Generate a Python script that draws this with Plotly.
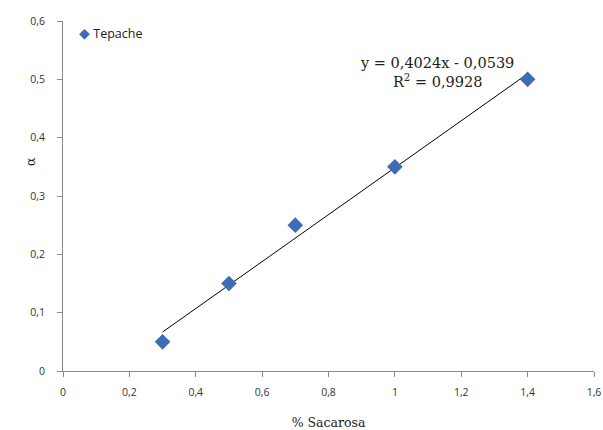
import plotly.graph_objects as go
import numpy as np

sacarosa = [0.3, 0.5, 0.7, 1.0, 1.4]
alpha = [0.05, 0.15, 0.25, 0.35, 0.50]
slope = 0.4024
intercept = -0.0539
eq_text = "y = 0,4024x - 0,0539<br>R<sup>2</sup> = 0,9928"
series_name = "Tepache"
marker_color = "#3D6DB5"
y_title = "α"

xt = np.array([min(sacarosa), max(sacarosa)])
yt = slope * xt + intercept

fig = go.Figure()
fig.add_trace(go.Scatter(x=list(xt), y=list(yt), mode="lines",
                         line=dict(color="black", width=1), showlegend=False,
                         hoverinfo="skip"))
fig.add_trace(go.Scatter(x=sacarosa, y=alpha, mode="markers", name=series_name,
                         showlegend=False,
                         marker=dict(symbol="diamond", size=12, color=marker_color)))

# legend drawn as a paper-anchored label
fig.add_annotation(x=0.027, y=0.966, xref="paper", yref="paper",
                   text=f"<span style='color:{marker_color};font-size:14px'>◆</span> {series_name}",
                   showarrow=False, xanchor="left", yanchor="middle",
                   font=dict(family="Open Sans, Liberation Sans, sans-serif", size=12.5, color="#222"))

# y axis title placed close to the tick labels
fig.add_annotation(x=-0.062, y=0.597, xref="paper", yref="paper", text=y_title,
                   showarrow=False, textangle=-90, xanchor="center", yanchor="middle",
                   font=dict(family="DejaVu Serif, Liberation Serif, serif", size=13, color="#222"))

fig.add_annotation(x=1.127, y=0.511, xref="x", yref="y", text=eq_text, showarrow=False,
                   font=dict(family="DejaVu Serif, Liberation Serif, serif", size=14.5, color="#222"),
                   align="center", xanchor="center", yanchor="middle")

tickfont = dict(family="Open Sans, Liberation Sans, sans-serif", size=10.5, color="#333")
fig.update_layout(
    width=603, height=430,
    margin=dict(l=63, r=9, t=21, b=59, autoexpand=False),
    plot_bgcolor="white", paper_bgcolor="white",
    separators=",.",
    xaxis=dict(range=[0, 1.6], dtick=0.2, tick0=0, showgrid=False, zeroline=False,
               showline=True, linecolor="#888", linewidth=1, ticks="outside",
               ticklen=5, tickcolor="#888", tickfont=tickfont, ticklabelstandoff=6,
               automargin=False,
               title=dict(text="% Sacarosa", font=dict(family="DejaVu Serif, Liberation Serif, serif", size=12.5, color="#222"), standoff=26)),
    yaxis=dict(range=[0, 0.6], dtick=0.1, tick0=0, showgrid=False, zeroline=False,
               showline=True, linecolor="#888", linewidth=1, ticks="outside",
               ticklen=5, tickcolor="#888", tickfont=tickfont, ticklabelstandoff=10,
               automargin=False),
)
fig.write_html("out.html")
